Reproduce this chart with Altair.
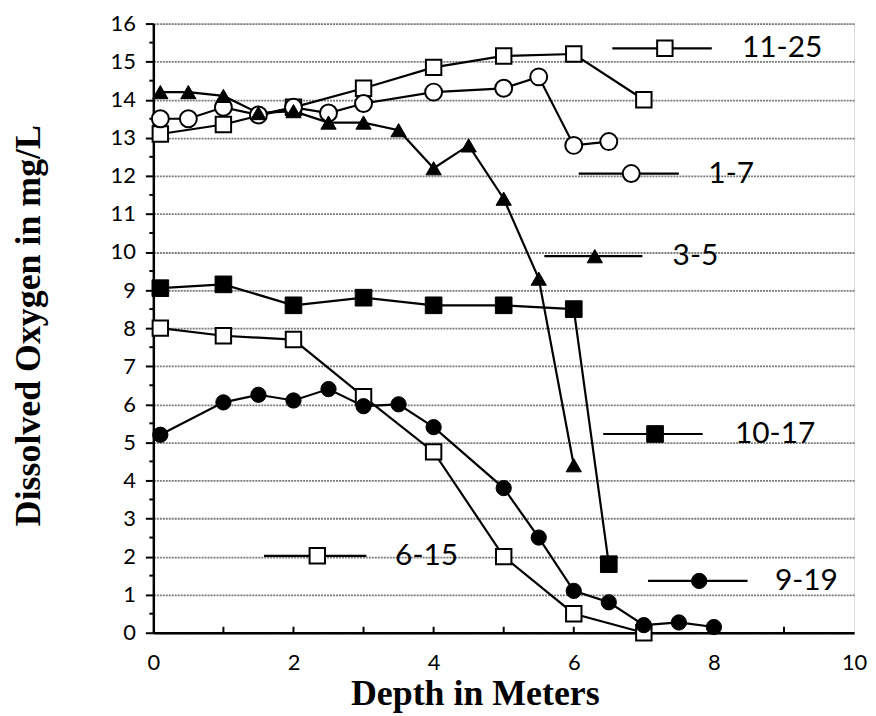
import altair as alt
import pandas as pd

# ---------------- data ----------------
series_labels = ["11-25", "1-7", "3-5", "10-17", "6-15", "9-19"]

depth_11_25 = [0.1, 1, 2, 3, 4, 5, 6, 7]
oxy_11_25 = [13.1, 13.35, 13.8, 14.3, 14.85, 15.15, 15.2, 14.0]

depth_1_7 = [0.1, 0.5, 1, 1.5, 2, 2.5, 3, 4, 5, 5.5, 6, 6.5]
oxy_1_7 = [13.5, 13.5, 13.8, 13.6, 13.8, 13.65, 13.9, 14.2, 14.3, 14.6, 12.8, 12.9]

depth_3_5 = [0.1, 0.5, 1, 1.5, 2, 2.5, 3, 3.5, 4, 4.5, 5, 5.5, 6]
oxy_3_5 = [14.2, 14.2, 14.1, 13.65, 13.7, 13.4, 13.4, 13.2, 12.2, 12.8, 11.4, 9.3, 4.4]

depth_10_17 = [0.1, 1, 2, 3, 4, 5, 6, 6.5]
oxy_10_17 = [9.05, 9.15, 8.6, 8.8, 8.6, 8.6, 8.5, 1.8]

depth_6_15 = [0.1, 1, 2, 3, 4, 5, 6, 7]
oxy_6_15 = [8.0, 7.8, 7.7, 6.2, 4.75, 2.0, 0.5, 0.0]

depth_9_19 = [0.1, 1, 1.5, 2, 2.5, 3, 3.5, 4, 5, 5.5, 6, 6.5, 7, 7.5, 8]
oxy_9_19 = [5.2, 6.05, 6.25, 6.1, 6.4, 5.95, 6.0, 5.4, 3.8, 2.5, 1.1, 0.8, 0.2, 0.27, 0.15]

x_tick_labels = [0, 2, 4, 6, 8, 10]
y_tick_labels = list(range(0, 17))

# inline key placement (data coordinates)
key_x1 = [6.55, 6.07, 5.58, 6.42, 1.58, 7.06]
key_x2 = [7.97, 7.50, 6.98, 7.84, 3.04, 8.48]
key_mx = [7.30, 6.82, 6.30, 7.16, 2.34, 7.79]
key_y = [15.35, 12.06, 9.89, 5.22, 2.02, 1.36]
key_tx = [8.40, 7.92, 7.41, 8.30, 3.45, 8.87]

# ---------------- styles ----------------
styles = {
    "11-25": dict(shape="square", fill="white", size=240, strokeWidth=2),
    "1-7": dict(shape="circle", fill="white", size=290, strokeWidth=2),
    "3-5": dict(shape="triangle-up", fill="black", size=235, strokeWidth=1),
    "10-17": dict(shape="square", fill="black", size=280, strokeWidth=1),
    "6-15": dict(shape="square", fill="white", size=240, strokeWidth=2),
    "9-19": dict(shape="circle", fill="black", size=235, strokeWidth=1),
}

all_depths = [depth_11_25, depth_1_7, depth_3_5, depth_10_17, depth_6_15, depth_9_19]
all_oxy = [oxy_11_25, oxy_1_7, oxy_3_5, oxy_10_17, oxy_6_15, oxy_9_19]

rows = []
for name, ds, os_ in zip(series_labels, all_depths, all_oxy):
    for d, o in zip(ds, os_):
        rows.append({"series": name, "depth": d, "oxy": o})
df = pd.DataFrame(rows)

keys = pd.DataFrame({
    "series": series_labels, "x1": key_x1, "x2": key_x2,
    "mx": key_mx, "y": key_y, "tx": key_tx,
})

W, H = 704, 612
xscale = alt.Scale(domain=[0, 10], nice=False, zero=False)
yscale = alt.Scale(domain=[0, 16], nice=False, zero=False)

x_axis = alt.Axis(
    values=x_tick_labels, format="d", ticks=False, grid=False, labelPadding=20,
    labelFont="Lato", labelFontSize=22, labelColor="black", labelFlush=False,
    labelOverlap=False,
    domainColor="black", domainWidth=2.5,
    title="Depth in Meters", titleFont="Liberation Serif", titleFontSize=36,
    titleFontWeight="bold", titleColor="black",
    titleX=323, titleY=72, titleBaseline="alphabetic",
)
y_axis = alt.Axis(
    values=y_tick_labels, format="d", tickSize=8, tickWidth=2, tickColor="black",
    grid=True, gridColor="#7a7a7a", gridWidth=1.8, gridDash=[2, 1],
    labelPadding=10, labelFont="Lato", labelFontSize=22, labelColor="black",
    labelFlush=False, labelOverlap=False,
    domainColor="black", domainWidth=2.5,
    title="Dissolved Oxygen in mg/L", titleFont="Liberation Serif",
    titleFontSize=36, titleFontWeight="bold", titleColor="black",
    titleAngle=270, titleX=-114, titleY=303, titleBaseline="alphabetic",
)


def X(field):
    return alt.X(field, scale=xscale, axis=x_axis, title="Depth in Meters")


def Y(field):
    return alt.Y(field, scale=yscale, axis=y_axis, title="Dissolved Oxygen in mg/L")


lines = alt.Chart(df).mark_line(color="black", strokeWidth=2.2).encode(
    x=X("depth:Q"), y=Y("oxy:Q"), detail="series:N", order="depth:Q",
)

layers = [lines]

# inward x ticks and minor outward y ticks
xt = pd.DataFrame({"t": list(range(1, 10))})
layers.append(alt.Chart(xt).mark_rule(color="black", strokeWidth=2).encode(
    x=X("t:Q"), y=alt.value(H), y2=alt.value(H - 6)))
yt = pd.DataFrame({"t": [i + 0.5 for i in range(16)]})
layers.append(alt.Chart(yt).mark_rule(color="black", strokeWidth=2).encode(
    y=Y("t:Q"), x=alt.value(-4), x2=alt.value(0)))

# key lines
layers.append(alt.Chart(keys).mark_rule(color="black", strokeWidth=2.2).encode(
    x=X("x1:Q"), x2="x2:Q", y=Y("y:Q")))

for name in series_labels:
    st = styles[name]
    mark_kw = dict(shape=st["shape"], filled=True, fill=st["fill"], stroke="black",
                   strokeWidth=st["strokeWidth"], size=st["size"], opacity=1)
    layers.append(alt.Chart(df[df.series == name]).mark_point(**mark_kw).encode(
        x=X("depth:Q"), y=Y("oxy:Q")))
    layers.append(alt.Chart(keys[keys.series == name]).mark_point(**mark_kw).encode(
        x=X("mx:Q"), y=Y("y:Q")))

layers.append(alt.Chart(keys).mark_text(
    align="left", baseline="middle", font="Lato", fontSize=30, color="black",
).encode(x=X("tx:Q"), y=Y("y:Q"), text="series:N"))

chart = alt.layer(*layers).properties(
    width=W, height=H,
    autosize=alt.AutoSizeParams(type="none"),
    padding={"left": 146, "top": 14, "right": 14, "bottom": 80},
).configure_view(stroke="black", strokeWidth=2).configure(background="white")

chart.save("out.html", embed_options={"renderer": "svg", "actions": False})
